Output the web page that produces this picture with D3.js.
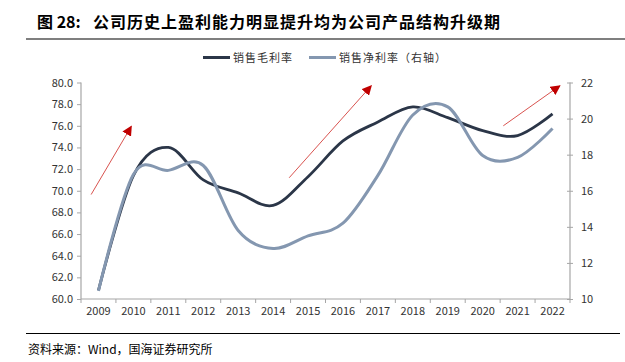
<!DOCTYPE html>
<html><head><meta charset="utf-8">
<script src="https://cdn.jsdelivr.net/npm/d3@7/dist/d3.min.js"></script>
<style>body{margin:0;background:#fff}svg{display:block}</style>
</head><body>
<svg id="c" width="625" height="362"></svg>
<script>
const years = ["2009","2010","2011","2012","2013","2014","2015","2016","2017","2018","2019","2020","2021","2022"];
const grossMargin = [60.8,71.4,74.0,71.0,69.8,68.65,71.3,74.6,76.35,77.75,76.75,75.55,75.1,77.1];
const netMargin = [10.45,16.9,17.13,17.4,13.8,12.8,13.5,14.2,16.85,20.2,20.65,17.95,17.85,19.45];
const leftTicks = [60,62,64,66,68,70,72,74,76,78,80];
const rightTicks = [10,12,14,16,18,20,22];
const seriesNames = ["销售毛利率","销售净利率（右轴）"];
// trend arrows: [startIndex, startValue(left axis), endIndex, endValue]
const arrows = [[-0.21,69.65,0.94,75.95],[5.46,71.2,7.81,79.7],[11.59,76.0,13.21,79.7]];

const svg = d3.select("#c");
const font = "'Noto Sans CJK SC','Noto Sans',sans-serif";
const M = {l:81, r:570, t:82.5, b:299};
const x = d3.scaleBand().domain(years).range([M.l, M.r]);
const xi = i => M.l + x.step()*(i+0.5);
const yL = d3.scaleLinear().domain([60,80]).range([M.b, M.t]);
const yR = d3.scaleLinear().domain([10,22]).range([M.b, M.t]);

// title
svg.append("text").attr("x",37).attr("y",28).attr("font-family",font).attr("font-weight","bold")
  .attr("font-size",16).attr("fill","#000").text("图 28:");
svg.append("text").attr("x",93).attr("y",28).attr("font-family",font).attr("font-weight","bold")
  .attr("font-size",16).attr("letter-spacing",1).attr("fill","#000").text("公司历史上盈利能力明显提升均为公司产品结构升级期");
svg.append("line").attr("x1",26).attr("x2",625).attr("y1",39).attr("y2",39).attr("stroke","#000").attr("stroke-width",1.2);

// axes
const axisColor = "#a6a6a6";
const gL = svg.append("g").attr("transform",`translate(${M.l},0)`)
  .call(d3.axisLeft(yL).tickValues(leftTicks).tickFormat(d3.format(".1f")).tickSize(4).tickPadding(4));
const gR = svg.append("g").attr("transform",`translate(${M.r},0)`)
  .call(d3.axisRight(yR).tickValues(rightTicks).tickSize(3).tickPadding(8));
const gX = svg.append("g").attr("transform",`translate(0,${M.b})`)
  .call(d3.axisBottom(x).tickSize(0).tickPadding(8));
// x ticks at band boundaries
gX.selectAll(".bt").data(d3.range(years.length+1)).enter().append("line")
  .attr("x1",i=>M.l+i*x.step()).attr("x2",i=>M.l+i*x.step()).attr("y1",0).attr("y2",4)
  .attr("stroke",axisColor);
gR.selectAll(".tick line").attr("x1",-3);
[gL,gR,gX].forEach(g=>{
  g.selectAll(".domain").attr("stroke",axisColor).attr("stroke-width",1.2);
  g.selectAll(".tick line").attr("stroke",axisColor);
  g.selectAll("text").attr("font-family",font).attr("font-size",11).attr("fill","#333");
});
gL.select(".domain").attr("d",`M0,${M.t}V${M.b}`);
gR.select(".domain").attr("d",`M0,${M.t}V${M.b}`);
gX.select(".domain").attr("d",`M${M.l},0H${M.r}`);

// lines
const line = (ys, vals) => d3.line().x((d,i)=>xi(i)).y(d=>ys(d)).curve(d3.curveCardinal.tension(0))(vals);
svg.append("path").attr("d",line(yL,grossMargin)).attr("fill","none").attr("stroke","#2b3648").attr("stroke-width",2.8);
svg.append("path").attr("d",line(yR,netMargin)).attr("fill","none").attr("stroke","#8497b0").attr("stroke-width",3);

// arrows
const defs = svg.append("defs");
defs.append("marker").attr("id","ah").attr("viewBox","0 0 10 10").attr("refX",9).attr("refY",5)
  .attr("markerWidth",10).attr("markerHeight",10).attr("markerUnits","userSpaceOnUse").attr("orient","auto")
  .append("path").attr("d","M0,0L10,5L0,10Z").attr("fill","#c00000");
svg.selectAll(".arr").data(arrows).enter().append("line")
  .attr("x1",d=>xi(d[0])).attr("y1",d=>yL(d[1])).attr("x2",d=>xi(d[2])).attr("y2",d=>yL(d[3]))
  .attr("stroke","#d9534f").attr("stroke-width",1).attr("marker-end","url(#ah)");

// legend
const lg = svg.append("g").attr("font-family",font).attr("font-size",11).attr("fill","#333");
const colors = ["#2b3648","#8497b0"];
const lx = [203,309];
seriesNames.forEach((n,i)=>{
  lg.append("line").attr("x1",lx[i]).attr("x2",lx[i]+27).attr("y1",57.5).attr("y2",57.5).attr("stroke",colors[i]).attr("stroke-width",3);
  lg.append("text").attr("x",lx[i]+30).attr("y",61.5).attr("letter-spacing",1).text(n);
});

// footer
svg.append("line").attr("x1",26).attr("x2",620).attr("y1",333.5).attr("y2",333.5).attr("stroke","#000").attr("stroke-width",1);
svg.append("text").attr("x",28).attr("y",354).attr("font-family",font).attr("font-size",12).attr("fill","#000").text("资料来源：Wind，国海证券研究所");
</script>
</body></html>
